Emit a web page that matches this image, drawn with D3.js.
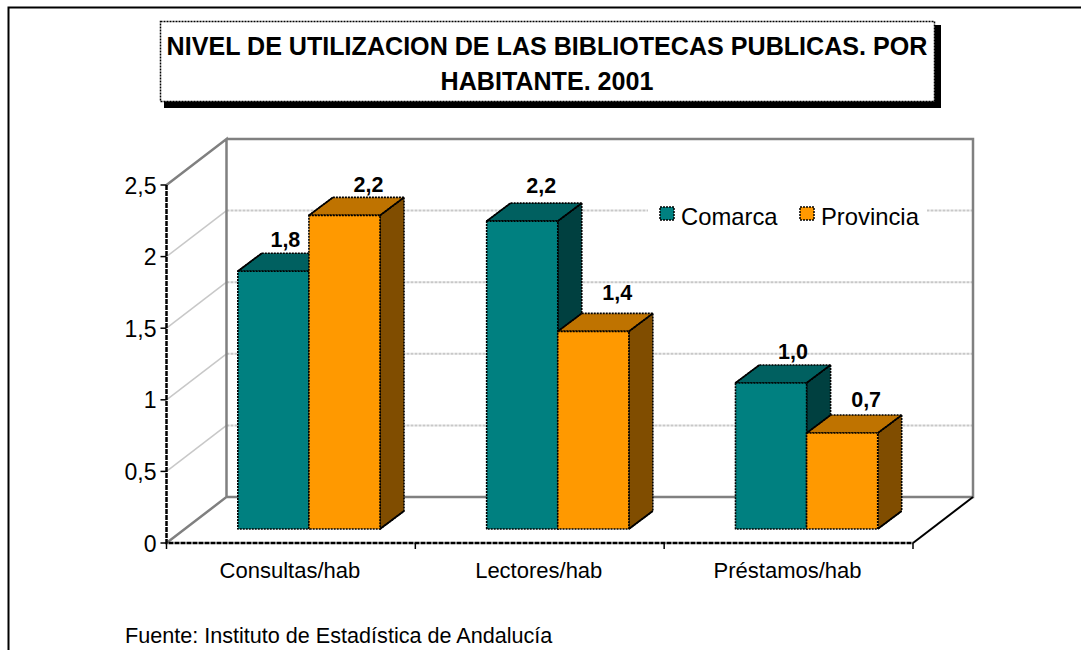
<!DOCTYPE html>
<html>
<head>
<meta charset="utf-8">
<script src="https://cdnjs.cloudflare.com/ajax/libs/d3/7.8.5/d3.min.js"></script>
<style>
  html, body { margin: 0; padding: 0; background: #fff; }
  svg { display: block; }
  text { font-family: "Liberation Sans", Arial, sans-serif; fill: #000; }
</style>
</head>
<body>
<div id="chart"></div>
<script>
var titleLines = ["NIVEL DE UTILIZACION DE LAS BIBLIOTECAS PUBLICAS. POR", "HABITANTE. 2001"];
var categories = ["Consultas/hab", "Lectores/hab", "Préstamos/hab"];
var seriesNames = ["Comarca", "Provincia"];
var comarca = [1.80, 2.15, 1.02];
var provincia = [2.19, 1.38, 0.67];
var comarcaLabels = ["1,8", "2,2", "1,0"];
var provinciaLabels = ["2,2", "1,4", "0,7"];
var yTicks = [0, 0.5, 1, 1.5, 2, 2.5];
var source = "Fuente: Instituto de Estadística de Andalucía";

var colors = {
  Comarca:   {front: "#008080", top: "#006060", side: "#004040"},
  Provincia: {front: "#ff9900", top: "#bf7300", side: "#804d00"}
};

var width = 1081, height = 650;

// plot box, front plane of the 3D floor
var x0 = 166.5, x1 = 913, y0 = 543, yTop = 185;
var wallDx = 60, wallDy = -46;   // depth of the whole floor
var barDx = 24, barDy = -18;     // depth of a bar
var barOffX = 18, barOffY = -14; // where the bars stand on the floor

// the labels were nudged by hand in the original
var comarcaNudgeX = [-12, -5, -2], comarcaNudgeY = [0, -4, 0];
var provinciaNudgeY = [1, -7, -2];

var svg = d3.select("#chart").append("svg")
  .attr("width", width)
  .attr("height", height);

// Scales
var y = d3.scaleLinear().domain([0, 2.5]).range([y0, yTop]);
var xAxisScale = d3.scalePoint().domain(d3.range(categories.length + 1)).range([x0, x1]);
var xGroup = d3.scaleBand().domain(categories).range([x0, x1]);
var xBar = d3.scaleBand().domain(seriesNames).range([0, xGroup.bandwidth()]).paddingInner(0).paddingOuter(0.75);

// Outer frame, only left and top show
svg.append("path")
  .attr("d", "M8.5,650V7.5H1081")
  .attr("fill", "none")
  .attr("stroke", "#000")
  .attr("stroke-width", 2);

// Title box
svg.append("rect").attr("x", 164).attr("y", 25).attr("width", 777).attr("height", 83).attr("fill", "#000");
svg.append("rect").attr("x", 160.5).attr("y", 21.5).attr("width", 774).attr("height", 80)
  .attr("fill", "#fff").attr("stroke", "#000").attr("stroke-width", 1.5).attr("stroke-dasharray", "2,1");
svg.selectAll("text.title")
  .data(titleLines)
  .enter().append("text")
  .attr("class", "title")
  .attr("x", 547)
  .attr("y", function(d, i) { return 55 + i * 35; })
  .attr("text-anchor", "middle")
  .style("font-size", "25.1px")
  .style("font-weight", "bold")
  .text(function(d) { return d; });

// Gridlines on the side wall and back wall
var gridVals = yTicks.filter(function(d) { return d > 0 && d < 2.5; });
var grid = svg.append("g").attr("fill", "none").attr("stroke", "#c8c8c8");
grid.selectAll("path.side")
  .data(gridVals)
  .enter().append("path")
  .attr("class", "side")
  .attr("stroke-width", 1.5)
  .attr("d", function(d) {
    return "M" + x0 + "," + y(d) + "L" + (x0 + wallDx) + "," + (y(d) + wallDy);
  });
grid.selectAll("path.back")
  .data(gridVals)
  .enter().append("path")
  .attr("class", "back")
  .attr("stroke-width", 2)
  .attr("stroke-dasharray", "3,1")
  .attr("d", function(d) {
    return "M" + (x0 + wallDx) + "," + (y(d) + wallDy) + "H" + (x1 + wallDx);
  });

// Walls
var bx0 = x0 + wallDx, bx1 = x1 + wallDx, by0 = y0 + wallDy, byTop = yTop + wallDy;
svg.append("path")
  .attr("d", "M" + x0 + "," + yTop + "L" + bx0 + "," + byTop + "V" + by0 + "L" + x0 + "," + y0 +
             "M" + bx0 + "," + byTop + "H" + bx1 + "V" + by0 + "H" + bx0)
  .attr("fill", "none")
  .attr("stroke", "#808080")
  .attr("stroke-width", 2.5);

// Bars
var rows = [];
categories.forEach(function(c, i) {
  rows.push({cat: c, series: "Comarca", value: comarca[i], label: comarcaLabels[i], nx: comarcaNudgeX[i], ny: comarcaNudgeY[i]});
  rows.push({cat: c, series: "Provincia", value: provincia[i], label: provinciaLabels[i], nx: 0, ny: provinciaNudgeY[i]});
});

function barX(d) { return xGroup(d.cat) + xBar(d.series) + barOffX; }
function barBase() { return y0 + barOffY; }
function barTop(d) { return barBase() - (y0 - y(d.value)); }

var bars = svg.selectAll("g.bar")
  .data(rows)
  .enter().append("g")
  .attr("class", "bar")
  .attr("stroke", "#000")
  .attr("stroke-width", 1.6)
  .attr("stroke-dasharray", "2,1")
  .attr("stroke-linejoin", "round");

// side face first, front goes over it
bars.append("path")
  .attr("fill", function(d) { return colors[d.series].side; })
  .attr("d", function(d) {
    var r = barX(d) + xBar.bandwidth();
    return "M" + r + "," + barTop(d) + "l" + barDx + "," + barDy + "V" + (barBase() + barDy) +
           "l" + (-barDx) + "," + (-barDy) + "Z";
  });
bars.append("path")
  .attr("fill", function(d) { return colors[d.series].top; })
  .attr("d", function(d) {
    var l = barX(d), w = xBar.bandwidth();
    return "M" + l + "," + barTop(d) + "l" + barDx + "," + barDy + "h" + w + "l" + (-barDx) + "," + (-barDy) + "Z";
  });
bars.append("rect")
  .attr("fill", function(d) { return colors[d.series].front; })
  .attr("x", barX)
  .attr("y", barTop)
  .attr("width", xBar.bandwidth())
  .attr("height", function(d) { return barBase() - barTop(d); });
// diagonal edges are solid in the original
bars.append("path")
  .attr("fill", "none")
  .attr("stroke-dasharray", "none")
  .attr("d", function(d) {
    var l = barX(d), r = l + xBar.bandwidth();
    return "M" + l + "," + barTop(d) + "l" + barDx + "," + barDy +
           "M" + r + "," + barTop(d) + "l" + barDx + "," + barDy +
           "M" + r + "," + barBase() + "l" + barDx + "," + barDy;
  });

// Value labels
svg.selectAll("text.value")
  .data(rows)
  .enter().append("text")
  .attr("class", "value")
  .attr("x", function(d) { return barX(d) + xBar.bandwidth() / 2 + barDx + d.nx; })
  .attr("y", function(d) { return barTop(d) + barDy - 6 + d.ny; })
  .attr("text-anchor", "middle")
  .style("font-size", "21.5px")
  .style("font-weight", "bold")
  .text(function(d) { return d.label; });

// Axes
var axisLines = svg.append("g").attr("stroke", "#000").attr("fill", "none").attr("stroke-width", 2.5);
axisLines.append("path").attr("d", "M" + x0 + "," + yTop + "V" + y0 + "H" + x1).attr("stroke-dasharray", "5,1");
axisLines.append("path").attr("d", "M" + x1 + "," + y0 + "L" + bx1 + "," + by0).attr("stroke-width", 2);

svg.append("g").selectAll("line")
  .data(yTicks)
  .enter().append("line")
  .attr("x1", x0 - 6).attr("x2", x0)
  .attr("y1", function(d) { return y(d); }).attr("y2", function(d) { return y(d); })
  .attr("stroke", "#000").attr("stroke-width", 1.5);

svg.append("g").selectAll("line")
  .data(xAxisScale.domain())
  .enter().append("line")
  .attr("x1", function(d) { return xAxisScale(d); }).attr("x2", function(d) { return xAxisScale(d); })
  .attr("y1", y0).attr("y2", y0 + 6)
  .attr("stroke", "#000").attr("stroke-width", 1.5);

svg.selectAll("text.ytick")
  .data(yTicks)
  .enter().append("text")
  .attr("class", "ytick")
  .attr("x", x0 - 10)
  .attr("y", function(d) { return y(d) + 8.5; })
  .attr("text-anchor", "end")
  .style("font-size", "23px")
  .text(function(d) { return String(d).replace(".", ","); });

svg.selectAll("text.cat")
  .data(categories)
  .enter().append("text")
  .attr("class", "cat")
  .attr("x", function(d) { return xGroup(d) + xGroup.bandwidth() / 2 - 1; })
  .attr("y", 578)
  .attr("text-anchor", "middle")
  .style("font-size", "22px")
  .text(function(d) { return d; });

// Legend, white box cuts the gridline
svg.append("rect").attr("x", 648).attr("y", 195).attr("width", 279).attr("height", 36).attr("fill", "#fff");
var legendX = d3.scaleOrdinal().domain(seriesNames).range([660, 800]);
var legend = svg.selectAll("g.legend")
  .data(seriesNames)
  .enter().append("g")
  .attr("class", "legend")
  .attr("transform", function(d) { return "translate(" + legendX(d) + ",207)"; });
legend.append("rect")
  .attr("width", 14).attr("height", 13)
  .attr("fill", function(d) { return colors[d].front; })
  .attr("stroke", "#000").attr("stroke-width", 1.5).attr("stroke-dasharray", "2,1");
legend.append("text")
  .attr("x", 21)
  .attr("y", 18)
  .style("font-size", "23.8px")
  .text(function(d) { return d; });

// Source
svg.append("text")
  .attr("x", 125)
  .attr("y", 643)
  .style("font-size", "21.6px")
  .text(source);
</script>
</body>
</html>
